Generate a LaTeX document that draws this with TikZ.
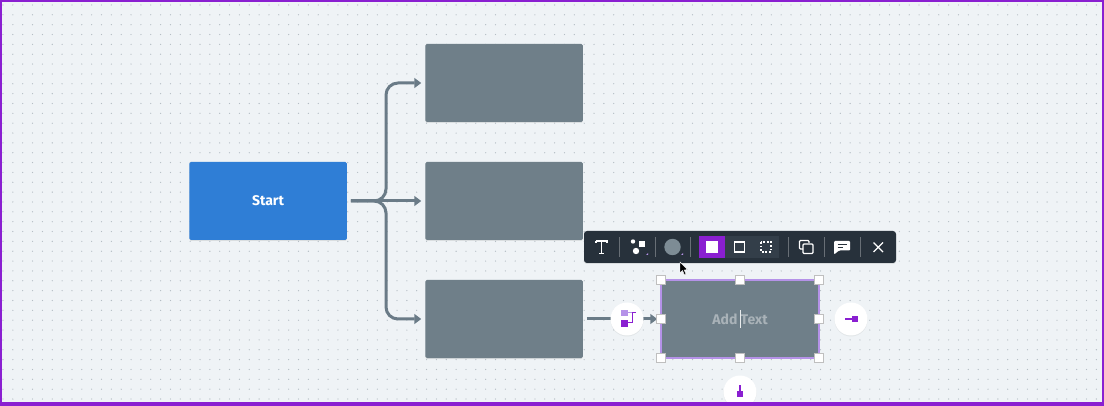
\documentclass[tikz,border=0pt]{standalone}
\usepackage{fontspec}
\setsansfont{Fira Sans}
\usetikzlibrary{arrows.meta, calc, shadows}
\definecolor{fondo}{HTML}{EFF3F6}
\definecolor{puntino}{HTML}{B4BDC4}
\definecolor{viola}{HTML}{8A1FD1}
\definecolor{violachiaro}{HTML}{B592E8}
\definecolor{grigio}{HTML}{6F7F89}
\definecolor{linea}{HTML}{6A7B87}
\definecolor{azzurro}{HTML}{2F7ED6}
\definecolor{barra}{HTML}{27313B}
\definecolor{barrachiara}{HTML}{333E49}

\begin{document}
\begin{tikzpicture}[
  x=1pt, y=-1pt,
  font=\sffamily,
  scatola/.style={fill=grigio, rounded corners=1.5pt, inner sep=0pt, outer sep=0pt,
                  minimum width=157.5pt, minimum height=78pt,
                  drop shadow={shadow xshift=0pt, shadow yshift=-1pt, opacity=0.18}},
  freccia/.style={draw=linea, line width=3pt, rounded corners=12pt,
                  -{Triangle[length=7pt, width=10pt]}, shorten >=4pt, shorten <=4pt},
  maniglia/.style={draw=black!25, fill=white, line width=0.6pt, inner sep=0pt, outer sep=0pt,
                   minimum size=9pt},
  bottone/.style={circle, fill=white, inner sep=0pt, minimum size=33pt,
                  drop shadow={shadow xshift=0pt, shadow yshift=-1pt, opacity=0.12}},
  separatore/.style={draw=white!30!barra, line width=0.8pt},
  icona/.style={draw=white, line width=1.3pt}
]
\useasboundingbox (0,0) rectangle (1104,406);

% ---- sfondo a puntini -------------------------------------------------
\fill[fondo] (0,0) rectangle (1104,406);
\foreach \i in {0,...,111} {
  \foreach \j in {0,...,40} {
    \fill[puntino] (3+9.85*\i,5+9.85*\j) circle (0.65);
  }
}

% ---- scatole del diagramma --------------------------------------------
\node[scatola, fill=azzurro, text=white, font=\sffamily\bfseries\fontsize{14}{16}\selectfont] (start) at (268,201) {Start};
\foreach \n/\y in {1/83, 2/201, 3/319} {
  \node[scatola] (ramo\n) at (504,\y) {};
}
\node[scatola, draw=violachiaro, line width=1.6pt, rounded corners=0pt,
      text=white!40!grigio, font=\sffamily\bfseries\fontsize{14}{16}\selectfont] (scelta) at (740,319) {Add Text};
\draw[white!85!grigio, line width=0.7pt] (scelta.center) ++(0,-9) -- ++(0,18);

% ---- frecce ------------------------------------------------------------
\coordinate (nodo) at (386,201);
\draw[freccia] (start.east) -- (ramo2.west);
\draw[freccia] (start.east) -- (nodo) |- (ramo1.west);
\draw[freccia] (start.east) -- (nodo) |- (ramo3.west);
\draw[freccia] (ramo3.east) -- (scelta.west);

% ---- maniglie della selezione ------------------------------------------
\foreach \a/\m in {north west/a, north/b, north east/c, west/d, east/e, south west/f, south/g, south east/h} {
  \node[maniglia] (man\m) at (scelta.\a) {};
}

% ---- bottoni rotondi ----------------------------------------------------
\node[bottone] (bsx) at (627,319) {};
\fill[violachiaro] (621,310) rectangle (628,316);
\draw[violachiaro, line width=1pt] (628,313) -- (632,313);
\fill[viola] (621,320) rectangle (628,327);
\draw[viola, line width=1pt] (628,323) -- (632,323) -- (632,313) -- (636,313);

\node[bottone] (bdx) at (851,319) {};
\fill[viola] (852,316) rectangle (858,322);
\draw[viola, line width=1.3pt] (845,319) -- (852,319);

\node[bottone] (bgiu) at (740,392) {};
\fill[viola] (737,391) rectangle (743,397);
\draw[viola, line width=1.3pt] (740,385) -- (740,391);

% ---- barra degli strumenti ------------------------------------------------
\node[fill=barra, rounded corners=3pt, inner sep=0pt, minimum width=312pt, minimum height=32pt,
      drop shadow={shadow xshift=0pt, shadow yshift=-1pt, opacity=0.2}] (barra) at (740,247) {};
\fill[barrachiara] (725,236) rectangle (779,258);
\fill[viola] (699,236) rectangle (725,258);
\foreach \x in {619, 655, 690, 788, 824, 860} {
  \draw[separatore] (\x,237) -- (\x,257);
}
% testo
\draw[icona] (596,241) -- (596,243) (596,241) -- (607,241) -- (607,243) (601.5,241) -- (601.5,253.5) (599,253.5) -- (604,253.5);
% forme
\fill[white] (639,241) rectangle (645,247);
\fill[white] (636,251) circle (3.2);
\fill[white] (633,241.5) circle (2.2);
\fill[violachiaro] (648,253) -- (648,255) -- (646,255) -- cycle;
% colore
\fill[grigio!90!white] (672.5,247) circle (8.2);
\fill[violachiaro] (683,253) -- (683,255) -- (681,255) -- cycle;
% stili del bordo
\fill[white] (706,241) rectangle (718,253);
\draw[icona] (734.5,242) rectangle (744.5,252);
\draw[icona, dash pattern=on 1.8pt off 1.8pt] (761,242) rectangle (771,252);
% copia
\draw[icona, line width=1.1pt, rounded corners=1pt] (803,249) -- (799.5,249) -- (799.5,240.5) -- (809,240.5) -- (809,243);
\draw[icona, line width=1.1pt, rounded corners=1pt] (803,244) rectangle (813,253.5);
% commento
\fill[white, rounded corners=1pt] (834,241) -- (850,241) -- (850,250.5) -- (839,250.5) -- (834,254.5) -- cycle;
\draw[barra, line width=1pt] (837.5,244.5) -- (846.5,244.5) (837.5,247.5) -- (843,247.5);
% chiudi
\draw[icona] (873.5,242.5) -- (883,252) (883,242.5) -- (873.5,252);

% ---- puntatore -----------------------------------------------------------
\filldraw[fill=black, draw=white, line width=0.4pt] (680,262) -- (680,273) -- (682.5,270.5) -- (684.5,275) -- (686,274.3) -- (684.2,270) -- (687.5,269.5) -- cycle;

% ---- cornice viola ---------------------------------------------------------
\fill[viola] (0,0) rectangle (1104,2);
\fill[viola] (0,402) rectangle (1104,406);
\fill[viola] (0,0) rectangle (2,406);
\fill[viola] (1102,0) rectangle (1104,406);

\end{tikzpicture}
\end{document}
